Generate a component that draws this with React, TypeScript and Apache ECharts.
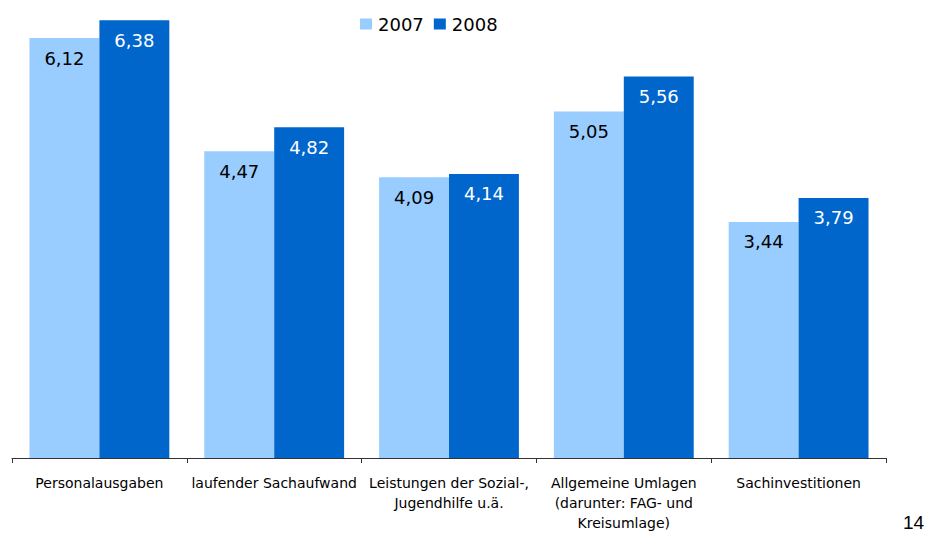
import React, { useEffect, useRef } from "react";
import * as echarts from "echarts";

const categories = [
  "Personalausgaben",
  "laufender Sachaufwand",
  "Leistungen der Sozial-,\nJugendhilfe u.ä.",
  "Allgemeine Umlagen\n(darunter: FAG- und\nKreisumlage)",
  "Sachinvestitionen",
];
const seriesNames = ["2007", "2008"];
const values2007 = [6.12, 4.47, 4.09, 5.05, 3.44];
const values2008 = [6.38, 4.82, 4.14, 5.56, 3.79];
const pageNumber = "14";

const fmt = (v: number) => v.toFixed(2).replace(".", ",");

export default function App() {
  const ref = useRef<HTMLDivElement>(null);
  useEffect(() => {
    const chart = echarts.init(ref.current!, null, { renderer: "svg" });
    const labelFont = "'DejaVu Sans', Verdana, sans-serif";
    chart.setOption({
      animation: false,
      backgroundColor: "#ffffff",
      legend: {
        data: seriesNames,
        top: 15,
        left: 360,
        padding: 0,
        itemWidth: 12,
        itemHeight: 11,
        itemGap: 10,
        icon: "rect",
        textStyle: { fontFamily: labelFont, fontSize: 18, lineHeight: 18, color: "#000", padding: [0, 0, 0, 1] },
      },
      grid: { left: 12, right: 42, top: 12, bottom: 70, containLabel: false },
      xAxis: {
        type: "category",
        data: categories,
        axisLine: { lineStyle: { color: "#333333", width: 1 } },
        axisTick: { show: true, length: 5, alignWithLabel: false, lineStyle: { color: "#333333" } },
        axisLabel: {
          interval: 0,
          margin: 15,
          fontFamily: labelFont,
          fontSize: 14,
          lineHeight: 20,
          color: "#000",
          align: "center",
        },
      },
      yAxis: {
        type: "value",
        min: 0,
        max: 6.5,
        show: false,
        splitLine: { show: false },
      },
      series: [
        {
          name: seriesNames[0],
          type: "bar",
          data: values2007,
          barGap: "0%",
          barCategoryGap: "20%",
          itemStyle: { color: "#99CCFF" },
          label: {
            show: true,
            position: "insideTop",
            distance: 11,
            formatter: (p: any) => fmt(p.value),
            fontFamily: labelFont,
            fontSize: 18,
            lineHeight: 18,
            color: "#000",
          },
        },
        {
          name: seriesNames[1],
          type: "bar",
          data: values2008,
          itemStyle: { color: "#0066CC" },
          label: {
            show: true,
            position: "insideTop",
            distance: 11,
            formatter: (p: any) => fmt(p.value),
            fontFamily: labelFont,
            fontSize: 18,
            lineHeight: 18,
            color: "#fff",
          },
        },
      ],
      graphic: [
        {
          type: "text",
          left: 903,
          top: 513,
          style: {
            text: pageNumber,
            fontFamily: "'Liberation Sans', Arial, sans-serif",
            fontSize: 19,
            fill: "#000",
          },
        },
      ],
    });
    return () => chart.dispose();
  }, []);
  return <div ref={ref} style={{ width: 928, height: 533, position: "absolute", left: 0, top: 0 }} />;
}
